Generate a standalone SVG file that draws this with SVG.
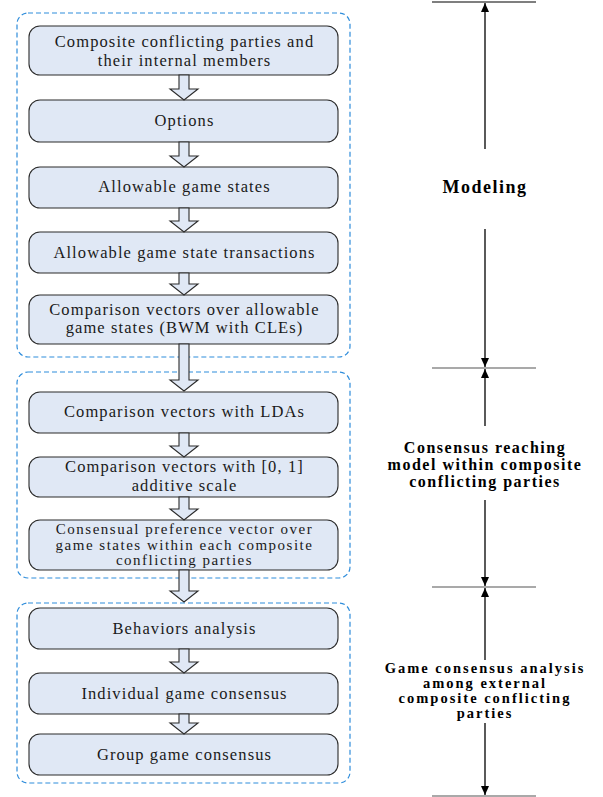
<svg xmlns="http://www.w3.org/2000/svg" width="603" height="797" viewBox="0 0 603 797">
<defs>
<style>
.grp{fill:none;stroke:#2f8ddb;stroke-width:1.2;stroke-dasharray:5,3}
.box{fill:#e0e8f5;stroke:#2b2b2b;stroke-width:1.1}
.t{font-family:"Liberation Serif","Times New Roman",serif;font-size:16.5px;letter-spacing:1.1px;fill:#1a1a1a;text-anchor:middle}
.t2{font-size:15px;letter-spacing:1.5px}
.r{font-family:"Liberation Serif","Times New Roman",serif;font-size:16px;letter-spacing:1.5px;font-weight:bold;fill:#000;text-anchor:middle}
.r2{font-size:14.5px;letter-spacing:2px}
.ba{fill:#e0e8f5;stroke:#2b2b2b;stroke-width:1.1}
.dim{stroke:#000;stroke-width:1.3;fill:none}
.hl{stroke:#555;stroke-width:1.2}
</style>
<marker id="ah" markerWidth="10" markerHeight="10" refX="9" refY="5" orient="auto" markerUnits="userSpaceOnUse">
<path d="M0,1 L9,5 L0,9 Z" fill="#000"/>
</marker>
</defs>
<rect width="603" height="797" fill="#fff"/>

<g id="group-modeling"><rect class="grp" x="17" y="13" width="333" height="344" rx="11"/></g>
<g id="group-consensus"><rect class="grp" x="17" y="372" width="333" height="206" rx="11"/></g>
<g id="group-game"><rect class="grp" x="17" y="603" width="333" height="180" rx="11"/></g>

<g id="n1"><rect class="box" x="29" y="26" width="309" height="49" rx="11"/>
<text class="t" x="184.5" y="47">Composite conflicting parties and</text>
<text class="t" x="184.5" y="66">their internal members</text></g>
<g id="n2"><rect class="box" x="29" y="100" width="309" height="42" rx="11"/>
<text class="t" x="184.5" y="126">Options</text></g>
<g id="n3"><rect class="box" x="29" y="167" width="309" height="41" rx="11"/>
<text class="t" x="184.5" y="192">Allowable game states</text></g>
<g id="n4"><rect class="box" x="29" y="232" width="309" height="41" rx="11"/>
<text class="t" x="184.5" y="258">Allowable game state transactions</text></g>
<g id="n5"><rect class="box" x="29" y="295" width="309" height="49" rx="11"/>
<text class="t" x="184.5" y="315">Comparison vectors over allowable</text>
<text class="t" x="184.5" y="333">game states (BWM with CLEs)</text></g>
<g id="n6"><rect class="box" x="29" y="392" width="309" height="41" rx="11"/>
<text class="t" x="184.5" y="417">Comparison vectors with LDAs</text></g>
<g id="n7"><rect class="box" x="29" y="457" width="309" height="40" rx="11"/>
<text class="t" x="184.5" y="472">Comparison vectors with [0, 1]</text>
<text class="t" x="184.5" y="490.5">additive scale</text></g>
<g id="n8"><rect class="box" x="29" y="520" width="309" height="50" rx="11"/>
<text class="t t2" x="184.5" y="534">Consensual preference vector over</text>
<text class="t t2" x="184.5" y="549.5">game states within each composite</text>
<text class="t t2" x="184.5" y="565">conflicting parties</text></g>
<g id="n9"><rect class="box" x="29" y="608" width="309" height="41" rx="11"/>
<text class="t" x="184.5" y="634">Behaviors analysis</text></g>
<g id="n10"><rect class="box" x="29" y="673" width="309" height="41" rx="11"/>
<text class="t" x="184.5" y="699">Individual game consensus</text></g>
<g id="n11"><rect class="box" x="29" y="734" width="309" height="41" rx="11"/>
<text class="t" x="184.5" y="760">Group game consensus</text></g>

<g id="connectors">
<polygon class="ba" points="179,75 189,75 189,89 198,89 184,100 170,89 179,89"/>
<polygon class="ba" points="179,142 189,142 189,156 198,156 184,167 170,156 179,156"/>
<polygon class="ba" points="179,208 189,208 189,221 198,221 184,232 170,221 179,221"/>
<polygon class="ba" points="179,273 189,273 189,284 198,284 184,295 170,284 179,284"/>
<polygon class="ba" points="179,344 189,344 189,380 198,380 184,391 170,380 179,380"/>
<polygon class="ba" points="179,433 189,433 189,446 198,446 184,457 170,446 179,446"/>
<polygon class="ba" points="179,497 189,497 189,509 198,509 184,520 170,509 179,509"/>
<polygon class="ba" points="179,570 189,570 189,591 198,591 184,602 170,591 179,591"/>
<polygon class="ba" points="179,649 189,649 189,662 198,662 184,673 170,662 179,662"/>
<polygon class="ba" points="179,714 189,714 189,723 198,723 184,734 170,723 179,723"/>
</g>

<g id="scale">
<line x1="432" y1="2" x2="536" y2="2" stroke="#000" stroke-width="1.2"/>
<line x1="432" y1="368" x2="536" y2="368" class="hl"/>
<line x1="432" y1="587" x2="536" y2="587" class="hl"/>
<line x1="432" y1="796" x2="536" y2="796" class="hl"/>
<line class="dim" x1="485" y1="149" x2="485" y2="3" marker-end="url(#ah)"/>
<line class="dim" x1="485" y1="229" x2="485" y2="367" marker-end="url(#ah)"/>
<line class="dim" x1="485" y1="426" x2="485" y2="369" marker-end="url(#ah)" stroke="#444"/>
<line class="dim" x1="485" y1="500" x2="485" y2="586" marker-end="url(#ah)" stroke="#444"/>
<line class="dim" x1="485" y1="660" x2="485" y2="588" marker-end="url(#ah)" stroke="#444"/>
<line class="dim" x1="485" y1="723" x2="485" y2="795" marker-end="url(#ah)" stroke="#444"/>
</g>
<g id="labels">
<text class="r" x="485" y="193" style="font-size:18px">Modeling</text>
<text class="r" x="485" y="453">Consensus reaching</text>
<text class="r" x="485" y="470">model within composite</text>
<text class="r" x="485" y="487">conflicting parties</text>
<text class="r r2" x="485" y="673">Game consensus analysis</text>
<text class="r r2" x="485" y="688">among external</text>
<text class="r r2" x="485" y="703">composite conflicting</text>
<text class="r r2" x="485" y="718">parties</text>
</g>
</svg>
